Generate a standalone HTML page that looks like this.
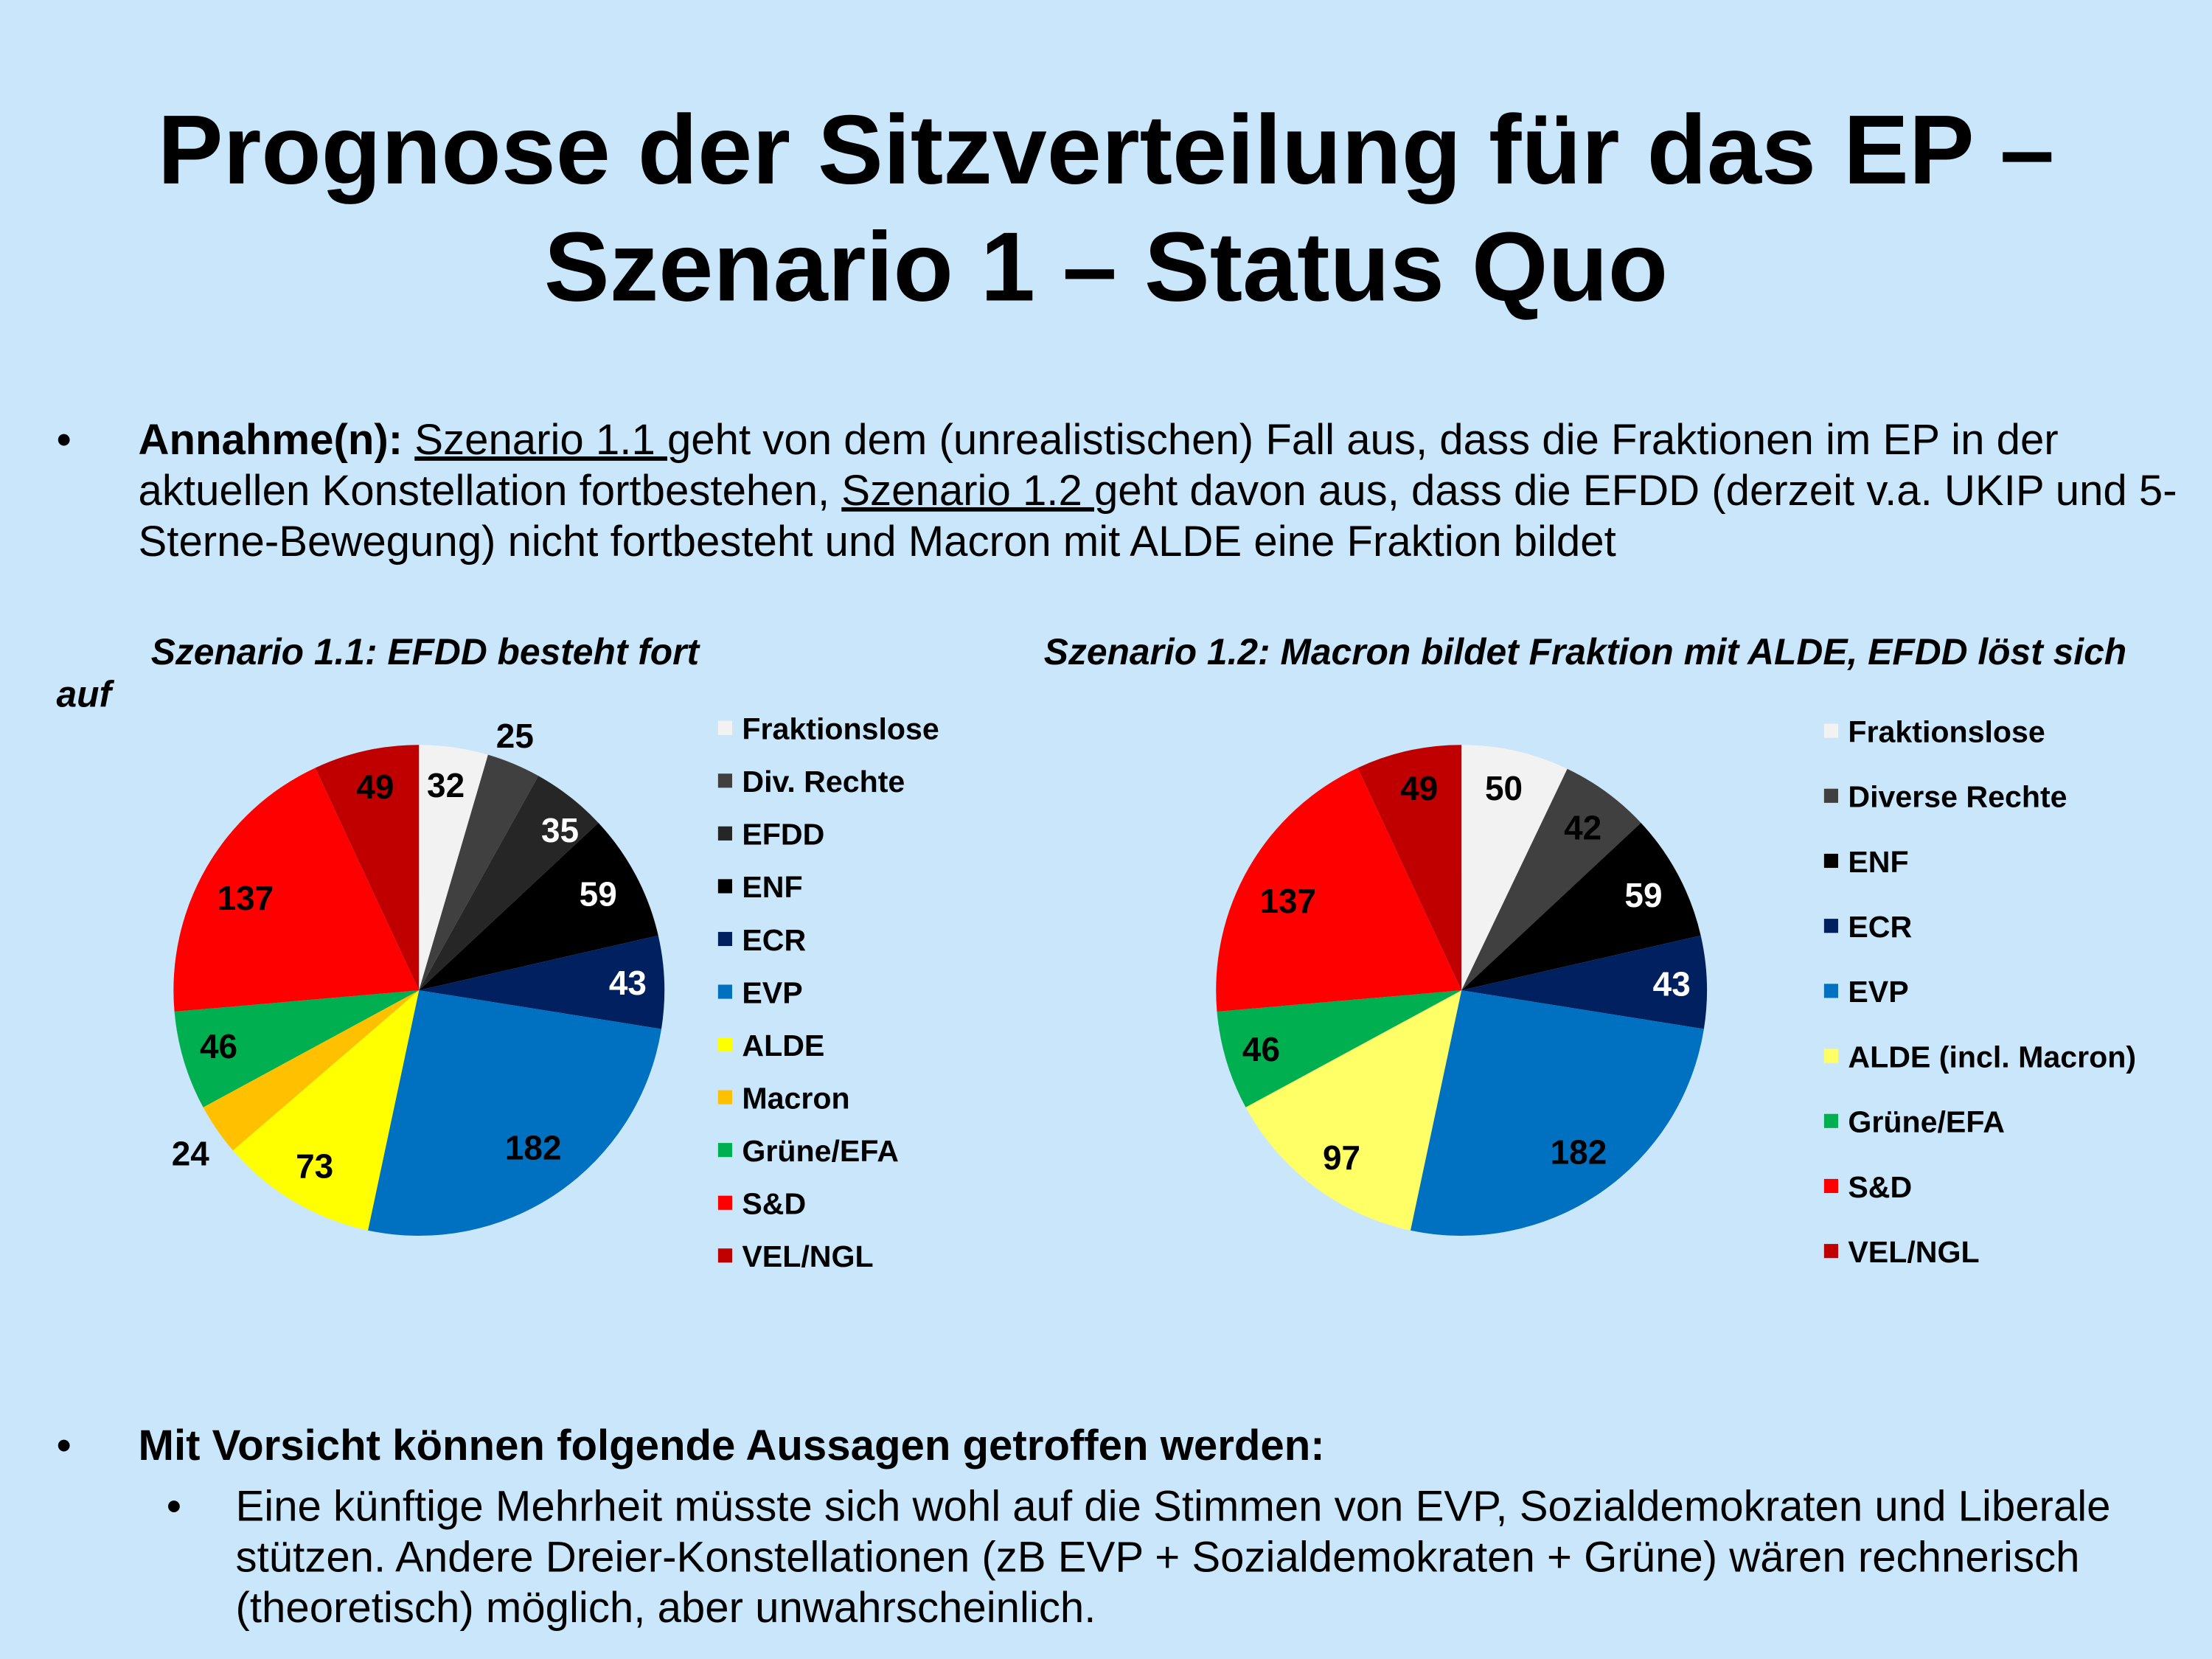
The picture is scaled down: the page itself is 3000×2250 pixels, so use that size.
<!DOCTYPE html>
<html><head><meta charset="utf-8">
<style>
html,body{margin:0;padding:0;background:#c9e6fb;}
svg{display:block;}
text{font-family:"Liberation Sans",Arial,sans-serif;}
</style></head>
<body>
<svg id="s" width="3000" height="2250" viewBox="0 0 1568 1176" xmlns="http://www.w3.org/2000/svg">
<rect width="1568" height="1176" fill="#c9e6fb"/>
<text x="784" y="130" font-size="69.6" font-weight="bold" text-anchor="middle">Prognose der Sitzverteilung für das EP –</text>
<text x="784" y="213" font-size="69.6" font-weight="bold" text-anchor="middle">Szenario 1 – Status Quo</text>

<g font-size="30.4">
<text x="40" y="322">•</text>
<text x="98" y="322"><tspan font-weight="bold">Annahme(n): </tspan><tspan text-decoration="underline">Szenario 1.1 </tspan>geht von dem (unrealistischen) Fall aus, dass die Fraktionen im EP in der</text>
<text x="98" y="358">aktuellen Konstellation fortbestehen, <tspan text-decoration="underline">Szenario 1.2 </tspan>geht davon aus, dass die EFDD (derzeit v.a. UKIP und 5-</text>
<text x="98" y="394">Sterne-Bewegung) nicht fortbesteht und Macron mit ALDE eine Fraktion bildet</text>
</g>

<g font-size="26" font-weight="bold" font-style="italic">
<text x="107" y="471">Szenario 1.1: EFDD besteht fort</text>
<text x="40" y="501">auf</text>
<text x="740" y="471">Szenario 1.2: Macron bildet Fraktion mit ALDE, EFDD löst sich</text>
</g>

<g id="p1"></g>
<g id="p2"></g>

<g font-size="24" font-weight="bold" text-anchor="middle">
<text x="365" y="530">25</text>
<text x="316" y="565">32</text>
<text x="397" y="597" fill="#fff">35</text>
<text x="424" y="642" fill="#fff">59</text>
<text x="445" y="705" fill="#fff">43</text>
<text x="378" y="822">182</text>
<text x="223" y="835">73</text>
<text x="135" y="826">24</text>
<text x="155" y="750">46</text>
<text x="174" y="645">137</text>
<text x="266" y="566">49</text>

<text x="1066" y="567">50</text>
<text x="1122" y="595">42</text>
<text x="1165" y="643" fill="#fff">59</text>
<text x="1185" y="706" fill="#fff">43</text>
<text x="1119" y="825">182</text>
<text x="951" y="829">97</text>
<text x="894" y="752">46</text>
<text x="913" y="647">137</text>
<text x="1006" y="567">49</text>
</g>

<g id="leg" font-size="21.5" font-weight="bold"></g>

<g font-size="30.4">
<text x="40" y="1035">•</text>
<text x="98" y="1035" font-weight="bold">Mit Vorsicht können folgende Aussagen getroffen werden:</text>
<text x="118" y="1078">•</text>
<text x="167" y="1078">Eine künftige Mehrheit müsste sich wohl auf die Stimmen von EVP, Sozialdemokraten und Liberale</text>
<text x="167" y="1114">stützen. Andere Dreier-Konstellationen (zB EVP + Sozialdemokraten + Grüne) wären rechnerisch</text>
<text x="167" y="1150">(theoretisch) möglich, aber unwahrscheinlich.</text>
</g>
</svg>
<script>
var NS="http://www.w3.org/2000/svg";
function pie(id,cx,cy,r,data){
 var g=document.getElementById(id),tot=0;data.forEach(d=>tot+=d[0]);
 var a=0;
 data.forEach(d=>{
  var a2=a+d[0]/tot*2*Math.PI;
  var x1=cx+r*Math.sin(a),y1=cy-r*Math.cos(a),x2=cx+r*Math.sin(a2),y2=cy-r*Math.cos(a2);
  var p=document.createElementNS(NS,"path");
  p.setAttribute("d","M"+cx+","+cy+"L"+x1+","+y1+"A"+r+","+r+" 0 "+((a2-a)>Math.PI?1:0)+" 1 "+x2+","+y2+"Z");
  p.setAttribute("fill",d[1]);g.appendChild(p);a=a2;
 });
}
pie("p1",297,702,174,[[32,"#f2f2f2"],[25,"#404040"],[35,"#262626"],[59,"#000"],[43,"#002060"],[182,"#0070c0"],[73,"#ffff00"],[24,"#ffc000"],[46,"#00b050"],[137,"#ff0000"],[49,"#c00000"]]);
pie("p2",1036,702,174,[[50,"#f2f2f2"],[42,"#404040"],[59,"#000"],[43,"#002060"],[182,"#0070c0"],[97,"#ffff66"],[46,"#00b050"],[137,"#ff0000"],[49,"#c00000"]]);
var lg=document.getElementById("leg");
function leg(x,y0,dy,items){
 items.forEach((it,i)=>{
  var y=y0+i*dy;
  var r=document.createElementNS(NS,"rect");
  r.setAttribute("x",x);r.setAttribute("y",y-13);r.setAttribute("width",10);r.setAttribute("height",10);r.setAttribute("fill",it[1]);lg.appendChild(r);
  var t=document.createElementNS(NS,"text");t.setAttribute("x",x+17);t.setAttribute("y",y);t.textContent=it[0];lg.appendChild(t);
 });
}
leg(509,524,37.4,[["Fraktionslose","#f2f2f2"],["Div. Rechte","#404040"],["EFDD","#262626"],["ENF","#000"],["ECR","#002060"],["EVP","#0070c0"],["ALDE","#ffff00"],["Macron","#ffc000"],["Grüne/EFA","#00b050"],["S&D","#ff0000"],["VEL/NGL","#c00000"]]);
leg(1293,526,46.1,[["Fraktionslose","#f2f2f2"],["Diverse Rechte","#404040"],["ENF","#000"],["ECR","#002060"],["EVP","#0070c0"],["ALDE (incl. Macron)","#ffff66"],["Grüne/EFA","#00b050"],["S&D","#ff0000"],["VEL/NGL","#c00000"]]);
</script>
</body></html>
